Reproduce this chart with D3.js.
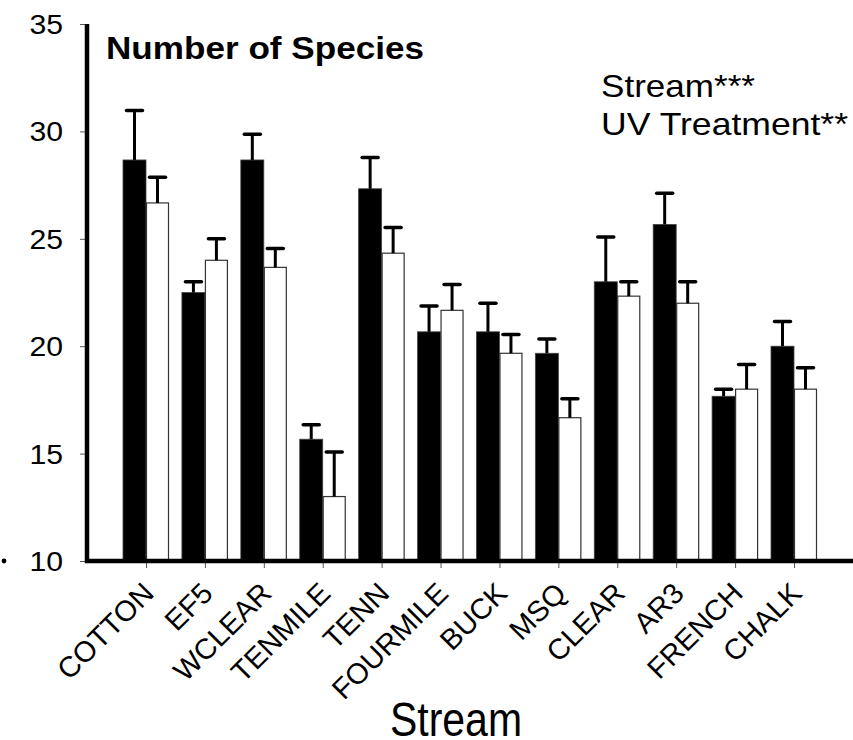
<!DOCTYPE html>
<html>
<head>
<meta charset="utf-8">
<script src="https://cdn.jsdelivr.net/npm/d3@7/dist/d3.min.js"></script>
<style>
  html, body { margin: 0; padding: 0; background: #fff; }
  svg { display: block; font-family: Arial, "Liberation Sans", sans-serif; }
</style>
</head>
<body>
<script>
// Species richness per stream, two UV treatments (mean + SE)
const streams = ["COTTON", "EF5", "WCLEAR", "TENMILE", "TENN", "FOURMILE",
                 "BUCK", "MSQ", "CLEAR", "AR3", "FRENCH", "CHALK"];
const filledMeans = [28.67, 22.5, 28.67, 15.67, 27.33, 20.67, 20.67, 19.67, 23.0, 25.67, 17.67, 20.0];
const filledSE    = [2.3, 0.5, 1.2, 0.67, 1.45, 1.2, 1.33, 0.67, 2.08, 1.45, 0.33, 1.15];
const openMeans   = [26.67, 24.0, 23.67, 13.0, 24.33, 21.67, 19.67, 16.67, 22.33, 22.0, 18.0, 18.0];
const openSE      = [1.2, 1.0, 0.88, 2.08, 1.2, 1.2, 0.88, 0.88, 0.67, 1.0, 1.15, 1.0];
const yTicks = [10, 15, 20, 25, 30, 35];
const chartTitle = "Number of Species";
const statsLines = ["Stream***", "UV Treatment**"];
const xTitle = "Stream";

const W = 853, H = 740;
const plotLeft = 87, plotRight = 853, plotTop = 24, plotBottom = 561;
const barW = 23;
const textStretch = 1.12;   // text is set slightly wide

const svg = d3.select("body").append("svg")
  .attr("width", W).attr("height", H);

const y = d3.scaleLinear().domain([10, 35]).range([plotBottom, plotTop]);
const x = d3.scalePoint().domain(streams).range([146, 794]);

// Y axis
const yAxis = svg.append("g")
  .attr("transform", `translate(${plotLeft},0)`)
  .call(d3.axisLeft(y).tickValues(yTicks).tickSize(7).tickSizeOuter(0));
yAxis.select(".domain").remove();
yAxis.selectAll(".tick line").attr("stroke", "#555").attr("stroke-width", 1);
yAxis.selectAll(".tick text")
  .attr("fill", "#000")
  .style("font-size", "27px")
  .attr("x", -24 / textStretch)
  .attr("dy", "0.35em")
  .attr("transform", `scale(${textStretch},1)`);

// X axis ticks and labels
const xAxis = svg.append("g")
  .attr("transform", `translate(0,${plotBottom})`)
  .call(d3.axisBottom(x).tickSize(7).tickSizeOuter(0));
xAxis.select(".domain").remove();
xAxis.selectAll(".tick line").attr("stroke", "#555").attr("stroke-width", 1);
xAxis.selectAll(".tick text")
  .attr("fill", "#000")
  .style("font-size", "29px")
  .attr("text-anchor", "end")
  .attr("x", 0).attr("y", 0).attr("dy", 0)
  .attr("transform", "translate(9,34) rotate(-45)");

// Bars
const groups = svg.append("g").selectAll("g")
  .data(streams.map((s, i) => ({ s, fm: filledMeans[i], fe: filledSE[i], om: openMeans[i], oe: openSE[i] })))
  .join("g");

groups.append("rect")
  .attr("x", d => x(d.s) - barW)
  .attr("y", d => y(d.fm))
  .attr("width", barW)
  .attr("height", d => y(10) - y(d.fm))
  .attr("fill", "#000")
  .attr("stroke", "#444").attr("stroke-width", 0.8);

groups.append("rect")
  .attr("x", d => x(d.s) + 0.5)
  .attr("y", d => y(d.om))
  .attr("width", barW - 1)
  .attr("height", d => y(10) - y(d.om))
  .attr("fill", "#fff")
  .attr("stroke", "#333").attr("stroke-width", 1.2);

// Error bars (upper half)
function errorBar(sel, cx, mean, se) {
  sel.append("line")
    .attr("x1", cx).attr("x2", cx)
    .attr("y1", d => y(mean(d))).attr("y2", d => y(mean(d) + se(d)))
    .attr("stroke", "#000").attr("stroke-width", 3);
  sel.append("line")
    .attr("x1", d => cx(d) - 8).attr("x2", d => cx(d) + 8)
    .attr("y1", d => y(mean(d) + se(d))).attr("y2", d => y(mean(d) + se(d)))
    .attr("stroke", "#000").attr("stroke-width", 3.5).attr("stroke-linecap", "round");
}
errorBar(groups, d => x(d.s) - barW / 2, d => d.fm, d => d.fe);
errorBar(groups, d => x(d.s) + barW / 2, d => d.om, d => d.oe);

// Heavy axis lines
svg.append("line")
  .attr("x1", plotLeft).attr("x2", plotLeft).attr("y1", plotTop).attr("y2", plotBottom + 2)
  .attr("stroke", "#000").attr("stroke-width", 4.5);
svg.append("line")
  .attr("x1", plotLeft - 2).attr("x2", plotRight).attr("y1", plotBottom).attr("y2", plotBottom)
  .attr("stroke", "#000").attr("stroke-width", 4.5);

// Stray marker left of the baseline label
svg.append("circle").attr("cx", 4).attr("cy", 561).attr("r", 2.4).attr("fill", "#000");

// Titles and annotations
svg.append("text")
  .attr("x", 106).attr("y", 59)
  .style("font-size", "32px").style("font-weight", "bold")
  .attr("textLength", 318).attr("lengthAdjust", "spacingAndGlyphs")
  .text(chartTitle);

const statsWidths = [154, 247];
svg.append("g").selectAll("text")
  .data(statsLines)
  .join("text")
  .attr("x", 601).attr("y", (d, i) => 97 + i * 38)
  .style("font-size", "32px")
  .attr("textLength", (d, i) => statsWidths[i]).attr("lengthAdjust", "spacingAndGlyphs")
  .text(d => d);

svg.append("text")
  .attr("x", 456).attr("y", 736)
  .attr("text-anchor", "middle")
  .style("font-size", "48px")
  .attr("textLength", 132).attr("lengthAdjust", "spacingAndGlyphs")
  .text(xTitle);
</script>
</body>
</html>
